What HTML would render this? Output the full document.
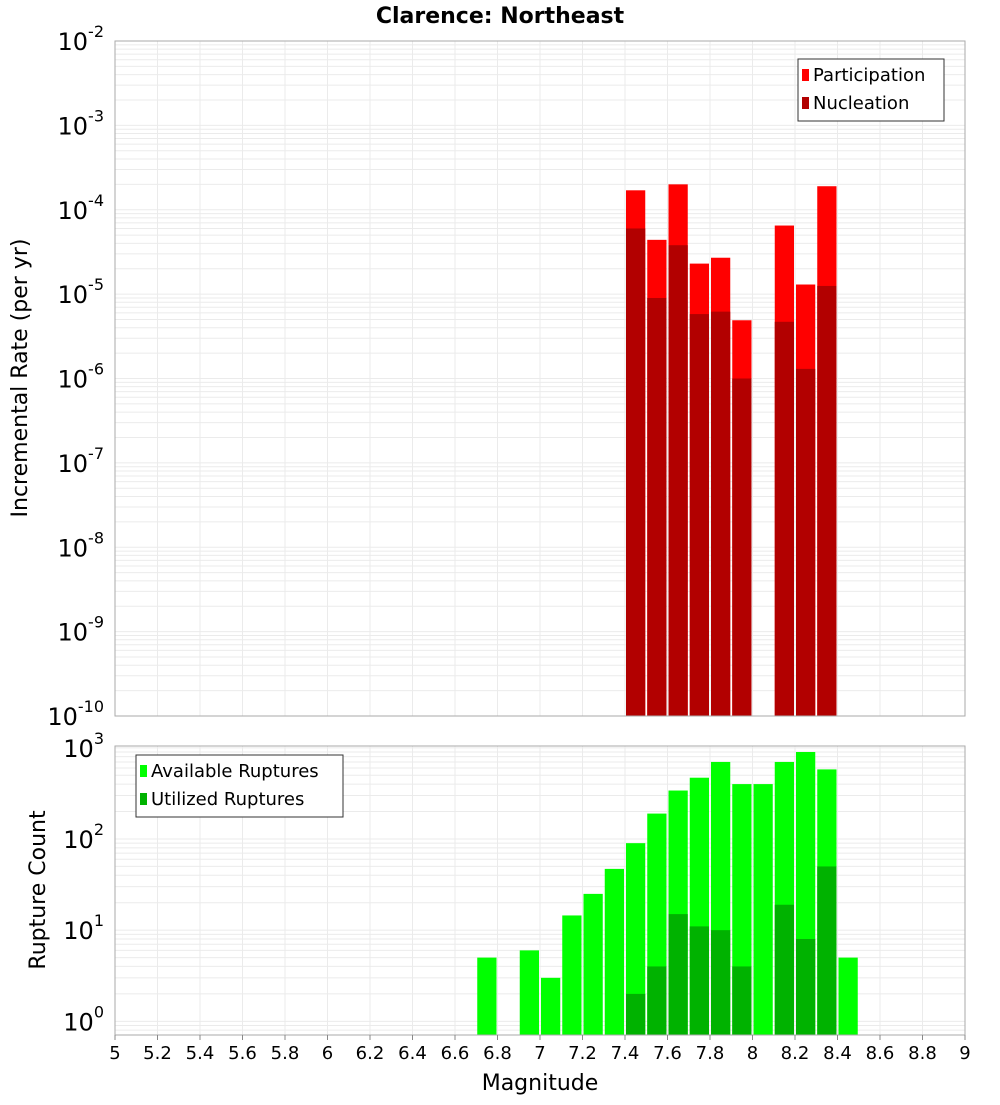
<!DOCTYPE html>
<html><head><meta charset="utf-8"><style>
body{margin:0;background:#fff;}
svg text{font-family:"DejaVu Sans","Liberation Sans",sans-serif;}
</style></head><body>
<svg id="c" width="1000" height="1100" xmlns="http://www.w3.org/2000/svg">
<text x="500" y="23" text-anchor="middle" font-size="22" font-weight="bold">Clarence: Northeast</text>
<text transform="translate(27,378) rotate(-90)" text-anchor="middle" font-size="22">Incremental Rate (per yr)</text>
<text transform="translate(45,890) rotate(-90)" text-anchor="middle" font-size="22">Rupture Count</text>
<text x="540" y="1090" text-anchor="middle" font-size="22">Magnitude</text>
</svg>
<script>
const bins=[7.45,7.55,7.65,7.75,7.85,7.95,8.15,8.25,8.35];
const participation=[1.7e-4,4.4e-5,2.0e-4,2.3e-5,2.7e-5,4.9e-6,6.5e-5,1.3e-5,1.9e-4];
const nucleation=[6.0e-5,9.0e-6,3.8e-5,5.8e-6,6.2e-6,1.0e-6,4.7e-6,1.3e-6,1.25e-5];
const availBins=[6.75,6.95,7.05,7.15,7.25,7.35,7.45,7.55,7.65,7.75,7.85,7.95,8.05,8.15,8.25,8.35,8.45];
const available=[5,6,3,14.5,25,47,90,190,340,470,700,400,400,700,900,580,5];
const utilBins=[7.45,7.55,7.65,7.75,7.85,7.95,8.15,8.25,8.35];
const utilized=[2,4,15,11,10,4,19,8,50];
const xTicks=["5","5.2","5.4","5.6","5.8","6","6.2","6.4","6.6","6.8","7","7.2","7.4","7.6","7.8","8","8.2","8.4","8.6","8.8","9"];

const svg=document.getElementById('c');const NS='http://www.w3.org/2000/svg';
function mk(t,a,p){const e=document.createElementNS(NS,t);for(const k in a)e.setAttribute(k,a[k]);(p||svg).appendChild(e);return e;}
const L=115,R=965;
const X=v=>L+(v-5)/4*(R-L);
const T={top:41,bot:716,lo:-10,hi:-2};
const B={top:746,bot:1035,lo:-0.15,hi:3.02};
const Y=(p,v)=>p.bot-(Math.log10(v)-p.lo)/(p.hi-p.lo)*(p.bot-p.top);
function panel(p,name){
  const g=mk('g',{});
  
  for(let d=Math.floor(p.lo);d<=Math.ceil(p.hi);d++)for(let m=1;m<10;m++){const v=m*Math.pow(10,d);const lv=Math.log10(v);if(lv<p.lo||lv>p.hi)continue;const y=Y(p,v);mk('line',{x1:L,x2:R,y1:y,y2:y,stroke:'#ebebeb','stroke-width':1},g);}
  for(let i=0;i<=20;i++){const x=X(5+i*0.2);mk('line',{x1:x,x2:x,y1:p.top,y2:p.bot,stroke:'#ebebeb','stroke-width':1},g);}
  for(let d=Math.ceil(p.lo);d<=Math.floor(p.hi);d++){const y=Y(p,Math.pow(10,d));
    const t=mk('text',{x:104,y:y+9,'text-anchor':'end','font-size':24});
    
    t.textContent='10';const s=mk('tspan',{dy:-13,'font-size':16},t);s.textContent=String(d);}
}
function border(p,name){const r=mk('rect',{x:L,y:p.top,width:R-L,height:p.bot-p.top,fill:'none',stroke:'#aaa'});}
function bars(p,bx,vals,color,name){
  bx.forEach((b,i)=>{const x0=X(b-0.05)+1,x1=X(b+0.05)-1,y=Y(p,vals[i]);
    const r=mk('rect',{x:x0,y:y,width:x1-x0,height:p.bot-y,fill:color});
    });
}
panel(T,'top');panel(B,'bottom');
bars(T,bins,participation,'#ff0000','participation-bar');
bars(T,bins,nucleation,'#b20000','nucleation-bar');
bars(B,availBins,available,'#00ff00','available-bar');
bars(B,utilBins,utilized,'#00b200','utilized-bar');
border(T,'top');border(B,'bottom');
xTicks.forEach((t,i)=>{const x=X(+t);mk('line',{x1:x,x2:x,y1:B.bot,y2:B.bot+5,stroke:'#888'});
  const e=mk('text',{x:x,y:1059,'text-anchor':'middle','font-size':18});e.textContent=t;
  });
function legend(x,y,w,items,name){const g=mk('g',{});
  mk('rect',{x:x,y:y,width:w,height:items.length*28+6,fill:'#fff',stroke:'#333'},g);
  items.forEach((it,i)=>{mk('rect',{x:x+4,y:y+10+i*28,width:7,height:12,fill:it[1]},g);
    const t=mk('text',{x:x+15,y:y+22+i*28,'font-size':18},g);t.textContent=it[0];
    });}
legend(798,59,146,[['Participation','#ff0000'],['Nucleation','#b20000']],'top-legend');
legend(136,755,207,[['Available Ruptures','#00ff00'],['Utilized Ruptures','#00b200']],'bottom-legend');
</script>
</body></html>
